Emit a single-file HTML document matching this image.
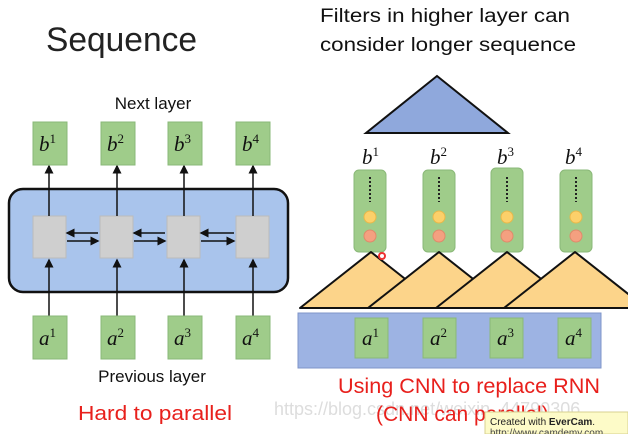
<!DOCTYPE html>
<html><head><meta charset="utf-8"><style>
html,body{margin:0;padding:0;background:#fff;width:628px;height:434px;overflow:hidden}
svg{display:block;font-family:"Liberation Sans",sans-serif}
.m{font-family:"Liberation Serif",serif;font-style:italic;font-size:21px;fill:#111}
.sup{font-family:"Liberation Serif",serif;font-style:normal;font-size:13px}
</style></head><body>
<svg width="628" height="434" viewBox="0 0 628 434">
<defs><marker id="ah" markerWidth="6" markerHeight="6" refX="5" refY="3" orient="auto"><path d="M0,0 L6,3 L0,6z" fill="#111"/></marker></defs>
<text x="46" y="51" font-size="34" fill="#222" textLength="151" lengthAdjust="spacingAndGlyphs">Sequence</text>
<text x="153" y="109" font-size="17" fill="#111" text-anchor="middle">Next layer</text>
<text x="152" y="382" font-size="17" fill="#111" text-anchor="middle">Previous layer</text>
<text x="78" y="420" font-size="20" fill="#e8201c" textLength="154" lengthAdjust="spacingAndGlyphs">Hard to parallel</text>
<rect x="9" y="189" width="279" height="103" rx="14" fill="#a9c4ec" stroke="#111" stroke-width="2.5"/>
<g fill="#cfcfcf" stroke="#bbb">
<rect x="33" y="216" width="33" height="42"/><rect x="100" y="216" width="33" height="42"/><rect x="167" y="216" width="33" height="42"/><rect x="236" y="216" width="33" height="42"/></g>
<g stroke="#111" stroke-width="1.5" marker-end="url(#ah)">
<line x1="49" y1="216" x2="49" y2="166"/><line x1="117" y1="216" x2="117" y2="166"/><line x1="184" y1="216" x2="184" y2="166"/><line x1="253" y1="216" x2="253" y2="166"/>
<line x1="49" y1="316" x2="49" y2="260"/><line x1="117" y1="316" x2="117" y2="260"/><line x1="184" y1="316" x2="184" y2="260"/><line x1="253" y1="316" x2="253" y2="260"/>
<line x1="98" y1="233" x2="67" y2="233"/><line x1="67" y1="241" x2="98" y2="241"/>
<line x1="165" y1="233" x2="134" y2="233"/><line x1="134" y1="241" x2="165" y2="241"/>
<line x1="234" y1="233" x2="201" y2="233"/><line x1="201" y1="241" x2="234" y2="241"/>
</g>
<g fill="#9fcc8a" stroke="#8ab878">
<rect x="33" y="122" width="34" height="43"/><rect x="101" y="122" width="34" height="43"/><rect x="168" y="122" width="34" height="43"/><rect x="236" y="122" width="34" height="43"/>
<rect x="33" y="316" width="34" height="43"/><rect x="101" y="316" width="34" height="43"/><rect x="168" y="316" width="34" height="43"/><rect x="236" y="316" width="34" height="43"/>
</g>
<g class="m">
<text x="39" y="151">b<tspan class="sup" dy="-8">1</tspan></text><text x="107" y="151">b<tspan class="sup" dy="-8">2</tspan></text><text x="174" y="151">b<tspan class="sup" dy="-8">3</tspan></text><text x="242" y="151">b<tspan class="sup" dy="-8">4</tspan></text>
<text x="39" y="345">a<tspan class="sup" dy="-8">1</tspan></text><text x="107" y="345">a<tspan class="sup" dy="-8">2</tspan></text><text x="174" y="345">a<tspan class="sup" dy="-8">3</tspan></text><text x="242" y="345">a<tspan class="sup" dy="-8">4</tspan></text>
</g>
<text x="320" y="22" font-size="19" fill="#111" textLength="250" lengthAdjust="spacingAndGlyphs">Filters in higher layer can</text>
<text x="320" y="51" font-size="19" fill="#111" textLength="256" lengthAdjust="spacingAndGlyphs">consider longer sequence</text>
<polygon points="437,76 366,133 508,133" fill="#8fa8dc" stroke="#111" stroke-width="2"/>
<g class="m"><text x="362" y="164">b<tspan class="sup" dy="-8">1</tspan></text><text x="430" y="164">b<tspan class="sup" dy="-8">2</tspan></text><text x="497" y="164">b<tspan class="sup" dy="-8">3</tspan></text><text x="565" y="164">b<tspan class="sup" dy="-8">4</tspan></text></g>
<g>
<g transform="translate(354,170)"><rect width="32" height="82" rx="5" fill="#9fcc8a" stroke="#8ab878"/><line x1="16" y1="7" x2="16" y2="32" stroke="#222" stroke-width="2" stroke-dasharray="2 2"/><circle cx="16" cy="47" r="6" fill="#fcd06a" stroke="#e8b84a"/><circle cx="16" cy="66" r="6" fill="#f4a080" stroke="#e08a6a"/></g>
<g transform="translate(423,170)"><rect width="32" height="82" rx="5" fill="#9fcc8a" stroke="#8ab878"/><line x1="16" y1="7" x2="16" y2="32" stroke="#222" stroke-width="2" stroke-dasharray="2 2"/><circle cx="16" cy="47" r="6" fill="#fcd06a" stroke="#e8b84a"/><circle cx="16" cy="66" r="6" fill="#f4a080" stroke="#e08a6a"/></g>
<g transform="translate(491,168)"><rect width="32" height="84" rx="5" fill="#9fcc8a" stroke="#8ab878"/><line x1="16" y1="9" x2="16" y2="34" stroke="#222" stroke-width="2" stroke-dasharray="2 2"/><circle cx="16" cy="49" r="6" fill="#fcd06a" stroke="#e8b84a"/><circle cx="16" cy="68" r="6" fill="#f4a080" stroke="#e08a6a"/></g>
<g transform="translate(560,170)"><rect width="32" height="82" rx="5" fill="#9fcc8a" stroke="#8ab878"/><line x1="16" y1="7" x2="16" y2="32" stroke="#222" stroke-width="2" stroke-dasharray="2 2"/><circle cx="16" cy="47" r="6" fill="#fcd06a" stroke="#e8b84a"/><circle cx="16" cy="66" r="6" fill="#f4a080" stroke="#e08a6a"/></g>
</g>
<g fill="#fcd48a" stroke="#111" stroke-width="2" stroke-linejoin="round">
<polygon points="371,252 300,308 442,308"/>
<polygon points="439,252 368,308 510,308"/>
<polygon points="507,252 436,308 578,308"/>
<polygon points="575,252 504,308 646,308"/>
</g>
<circle cx="382" cy="256" r="3" fill="none" stroke="#e33" stroke-width="2"/>
<rect x="298" y="313" width="303" height="55" fill="#9db3e3" stroke="#7f95c8"/>
<g fill="#9fcc8a" stroke="#8ab878"><rect x="355" y="318" width="33" height="40"/><rect x="423" y="318" width="33" height="40"/><rect x="490" y="318" width="33" height="40"/><rect x="558" y="318" width="33" height="40"/></g>
<g class="m"><text x="362" y="345">a<tspan class="sup" dy="-8">1</tspan></text><text x="430" y="345">a<tspan class="sup" dy="-8">2</tspan></text><text x="497" y="345">a<tspan class="sup" dy="-8">3</tspan></text><text x="565" y="345">a<tspan class="sup" dy="-8">4</tspan></text></g>
<text x="338" y="393" font-size="21" fill="#e8201c" textLength="262" lengthAdjust="spacingAndGlyphs">Using CNN to replace RNN</text>
<text x="274" y="415" font-size="18" fill="#ddd">https://blog.csdn.net/weixin_44790306</text>
<text x="376" y="421" font-size="21" fill="#e8201c">(CNN can parallel)</text>
<rect x="485" y="412" width="143" height="22" fill="#fdfbc8" stroke="#d8d290"/>
<text x="490" y="425" font-size="10" fill="#222">Created with <tspan font-weight="bold">EverCam</tspan>.</text>
<text x="490" y="436" font-size="10" fill="#444">http://www.camdemy.com</text>
</svg>
</body></html>
